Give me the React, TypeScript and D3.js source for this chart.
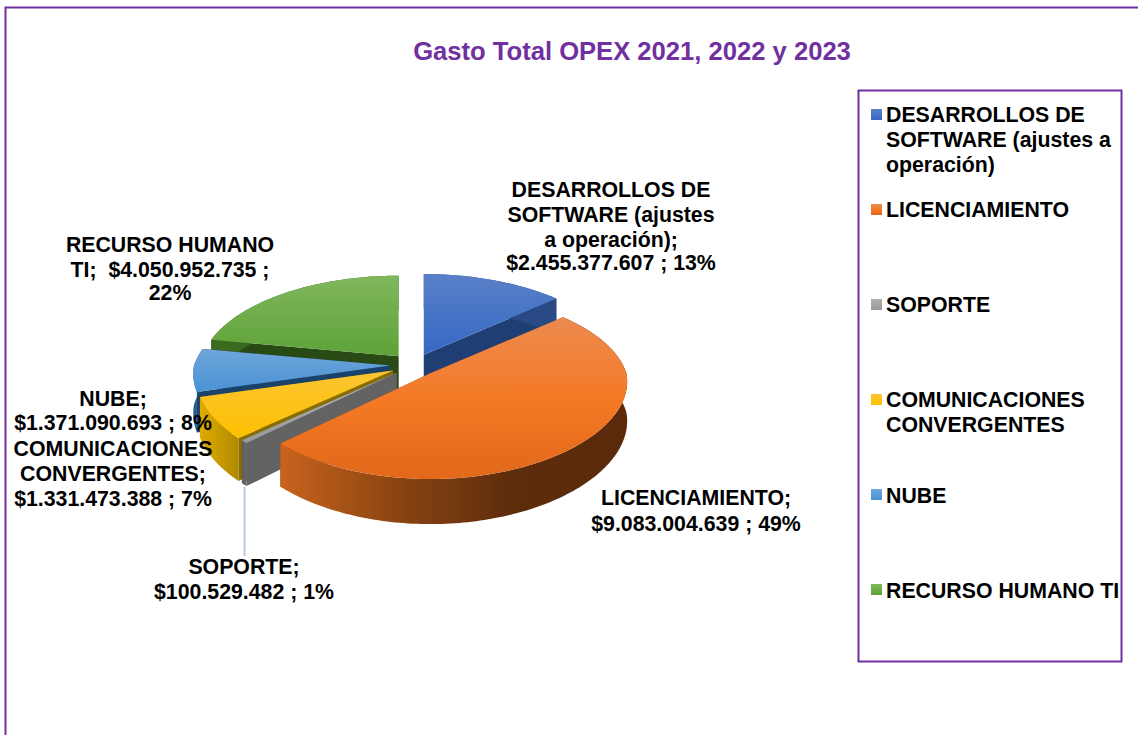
import React from "react";
import * as d3 from "d3";

const titleText = "Gasto Total OPEX 2021, 2022 y 2023";
const categories = ["DESARROLLOS DE SOFTWARE (ajustes a operación)", "LICENCIAMIENTO", "SOPORTE", "COMUNICACIONES CONVERGENTES", "NUBE", "RECURSO HUMANO TI"];
const values = [2455377607, 9083004639, 100529482, 1331473388, 1371090693, 4050952735];
const legendLines = [["DESARROLLOS DE", "SOFTWARE (ajustes a", "operación)"], ["LICENCIAMIENTO"], ["SOPORTE"], ["COMUNICACIONES", "CONVERGENTES"], ["NUBE"], ["RECURSO HUMANO TI"]];
const labelLines = [
  ["DESARROLLOS DE", "SOFTWARE (ajustes", "a operación);", "$2.455.377.607 ; 13%"],
  ["LICENCIAMIENTO;", "$9.083.004.639 ; 49%"],
  ["SOPORTE;", "$100.529.482 ; 1%"],
  ["COMUNICACIONES", "CONVERGENTES;", "$1.331.473.388 ; 7%"],
  ["NUBE;", "$1.371.090.693 ; 8%"],
  ["RECURSO HUMANO", "TI;  $4.050.952.735 ;", "22%"],
];

// styles and layout, one row per category
const topStops = [["#5a80c8", "#3568c4"], ["#ec8a50", "#f47a26", "#e2681a"], ["#b0b0b0", "#9a9a9a"], ["#fcc534", "#fdc000"], ["#6ea6dc", "#4a92d2"], ["#80b75c", "#5ea238"]];
const wallStops = [["#2a4a85", "#2a4a85"], ["#c9631d", "#8a4512", "#5d2c0b", "#5a2a0a"], ["#5c5c5c", "#6a6a6a"], ["#e0ab00", "#b08a00"], ["#275a8e", "#275a8e"], ["#3a6a20", "#3a6a20"]];
const faceColors = ["#1f3f74", "#8a4512", "#636363", "#8a6d00", "#1b426a", "#2a4a15"];
const labelX = [611, 696, 244, 113, 113, 170];
const labelY = [[197, 222, 247, 270], [505, 531], [574, 599], [456, 481, 506], [406, 430], [252, 277, 300]];
const legendTextY = [[122, 147, 172], [217], [312], [407, 432], [503], [598]];
const legendSwatchY = [115, 210, 305, 400, 495, 590];

const cx = 414, cy = 365, explode = 24, squash = 0.47;
const rx = 196, ryK = 91.5, perspXFront = 0.09, perspXBack = 0.15, perspY = 0.135, depth = 39;
const purple = "#7030a0";
const font = "'Liberation Sans', Arial, sans-serif";

const pieGen = d3.pie<number>().sort(null).startAngle(0).endAngle(2 * Math.PI);
const arcs = pieGen(values);

function rim(a: number) {
  const X = Math.sin(a), Y = -Math.cos(a);
  const s = 1 / (1 - perspY * Y);
  const sx = 1 / (1 - (Y < 0 ? perspXBack : perspXFront) * Y);
  return { x: X * sx * rx, y: Y * s * ryK, s };
}
const lineGen = d3.line<[number, number]>();

function sliceShapes(d: d3.PieArcDatum<number>) {
  const mid = (d.startAngle + d.endAngle) / 2;
  const ox = cx + explode * Math.sin(mid);
  const oy = cy - explode * squash * Math.cos(mid);
  const n = Math.max(4, Math.ceil((d.endAngle - d.startAngle) / 0.02));
  const angles = d3.range(n + 1).map((i) => d.startAngle + ((d.endAngle - d.startAngle) * i) / n);
  const topEdge: [number, number][] = angles.map((a) => { const p = rim(a); return [ox + p.x, oy + p.y]; });
  const lowEdge: [number, number][] = angles.map((a) => { const p = rim(a); return [ox + p.x, oy + p.y + depth * p.s]; });
  const apex: [number, number] = [ox, oy];
  const apexLow: [number, number] = [ox, oy + depth];
  const top = lineGen([apex, ...topEdge])! + "Z";
  const outer = lineGen([...topEdge, ...lowEdge.slice().reverse()])! + "Z";
  const faceA = lineGen([apex, topEdge[0], lowEdge[0], apexLow])! + "Z";
  const faceB = lineGen([apex, topEdge[n], lowEdge[n], apexLow])! + "Z";
  return { top, outer, faceA, faceB };
}

function Gradient({ id, stops, vertical }: { id: string; stops: string[]; vertical: boolean }) {
  return (
    <linearGradient id={id} x1="0" y1="0" x2={vertical ? "0" : "1"} y2={vertical ? "1" : "0"}>
      {stops.map((c, i) => <stop key={i} offset={i / (stops.length - 1)} stopColor={c} />)}
    </linearGradient>
  );
}

export default function App() {
  return (
    <svg width={1138} height={735} style={{ position: "absolute", left: 0, top: 0, background: "#fff" }} fontFamily={font}>
      <defs>
        {categories.map((_, i) => (
          <g key={i}>
            <Gradient id={`top${i}`} stops={topStops[i]} vertical />
            <Gradient id={`wall${i}`} stops={wallStops[i]} vertical={false} />
          </g>
        ))}
      </defs>
      <path d="M5.5,735V7.5H1138" fill="none" stroke={purple} strokeWidth={2} />
      <text x={632} y={60} textAnchor="middle" fontSize={25.6} fontWeight="bold" fill={purple}>{titleText}</text>

      <line x1={244.5} y1={487} x2={244.5} y2={556} stroke="#b9cbdc" strokeWidth={2} />

      {[0, 5, 4, 3, 2, 1].map((i) => {
        const s = sliceShapes(arcs[i]);
        return (
          <g key={i}>
            <path d={s.faceA} fill={faceColors[i]} />
            <path d={s.faceB} fill={faceColors[i]} />
            <path d={s.outer} fill={`url(#wall${i})`} />
            <path d={s.top} fill={`url(#top${i})`} />
          </g>
        );
      })}

      {labelLines.map((lines, i) => (
        <text key={i} textAnchor="middle" fontSize={21.3} fontWeight="bold" fill="#000" xmlSpace="preserve">
          {lines.map((l, j) => <tspan key={j} x={labelX[i]} y={labelY[i][j]}>{l}</tspan>)}
        </text>
      ))}

      <rect x={858.5} y={90.5} width={263} height={571} fill="none" stroke={purple} strokeWidth={2} />
      {categories.map((_, i) => (
        <g key={i}>
          <rect x={871} y={legendSwatchY[i] - 6} width={11} height={11} fill={`url(#top${i})`} />
          <text fontSize={21.3} fontWeight="bold" fill="#000">
            {legendLines[i].map((l, j) => <tspan key={j} x={886} y={legendTextY[i][j]}>{l}</tspan>)}
          </text>
        </g>
      ))}
    </svg>
  );
}
